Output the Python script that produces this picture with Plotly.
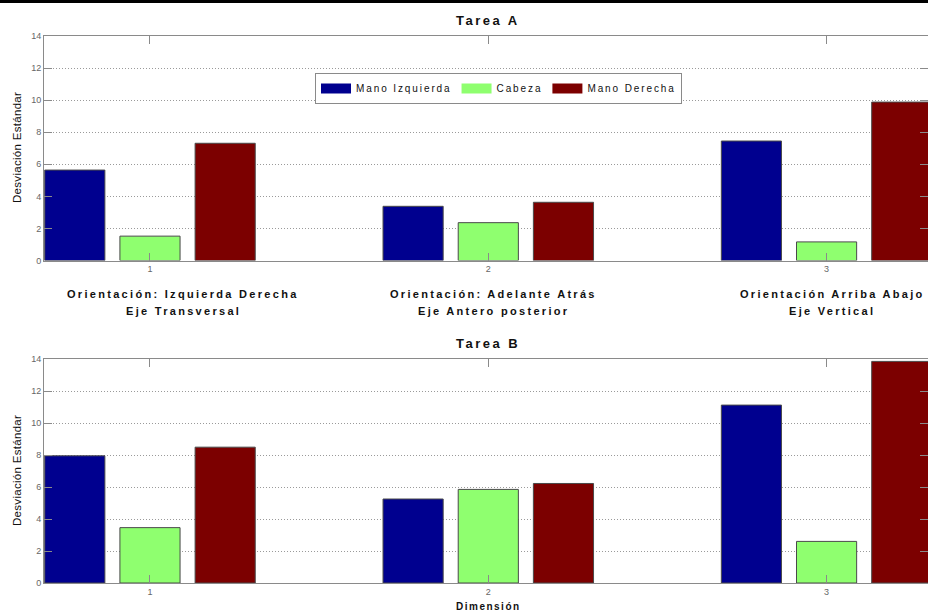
import plotly.graph_objects as go

dimensiones = [1, 2, 3]
series = ["Mano Izquierda", "Cabeza", "Mano Derecha"]
colores = ["#00008F", "#8FFF6F", "#7C0000"]

tarea_a_izq = [5.64, 3.38, 7.45]
tarea_a_cab = [1.52, 2.36, 1.16]
tarea_a_der = [7.31, 3.63, 9.88]

tarea_b_izq = [7.95, 5.25, 11.12]
tarea_b_cab = [3.46, 5.85, 2.60]
tarea_b_der = [8.49, 6.22, 13.85]

etiquetas_l1 = ["Orientación: Izquierda Derecha", "Orientación: Adelante Atrás", "Orientación Arriba Abajo"]
etiquetas_l2 = ["Eje Transversal", "Eje Antero posterior", "Eje Vertical"]
titulos = ["Tarea A", "Tarea B"]
ytitulo = "Desviación Estándar"
xtitulo = "Dimensión"

FONT = "Liberation Sans, Arial, sans-serif"

def sp(txt, ls=1):
    return f'<span style="letter-spacing:{ls}px">{txt}</span>'

fig = go.Figure()
datos_a = [tarea_a_izq, tarea_a_cab, tarea_a_der]
datos_b = [tarea_b_izq, tarea_b_cab, tarea_b_der]
for i, (nombre, col) in enumerate(zip(series, colores)):
    fig.add_trace(go.Bar(x=dimensiones, y=datos_a[i], name=nombre,
                         marker=dict(color=col, line=dict(color="#4a4a4a", width=1)),
                         xaxis="x", yaxis="y", showlegend=False))
for i, (nombre, col) in enumerate(zip(series, colores)):
    fig.add_trace(go.Bar(x=dimensiones, y=datos_b[i], name=nombre,
                         marker=dict(color=col, line=dict(color="#4a4a4a", width=1)),
                         xaxis="x2", yaxis="y2", showlegend=False))
# legend entries (wide swatches like the original)
for nombre, col in zip(series, colores):
    fig.add_trace(go.Scatter(x=[None], y=[None], mode="lines", name=sp(nombre, 1.9),
                             line=dict(color=col, width=13), xaxis="x", yaxis="y",
                             hoverinfo="skip"))

H_PLOT = 547.0
W_PLOT = 884.0
def py(pix):
    return (583 - pix) / H_PLOT
def px(pix):
    return (pix - 44) / W_PLOT

axis_common = dict(showline=True, linecolor="#8a8a8a", linewidth=1, mirror="ticks", ticks="inside",
                   ticklen=8, tickcolor="#8a8a8a", tickfont=dict(family=FONT, size=9, color="#666666"))
xr = [0.6867, 3.2998]
fig.update_layout(
    width=928, height=613,
    margin=dict(l=44, r=0, t=36, b=30),
    paper_bgcolor="white", plot_bgcolor="white",
    barmode="group", bargap=0.3333, bargroupgap=0.2,
    font=dict(family=FONT),
    xaxis=dict(domain=[0, 1], anchor="y", range=xr, tickvals=dimensiones, showgrid=False, zeroline=False, **axis_common),
    yaxis=dict(domain=[py(260.5), 1], anchor="x", range=[0, 14], dtick=2, showgrid=True, gridcolor="#9a9a9a",
               griddash="1px,2px", zeroline=False, **axis_common),
    xaxis2=dict(domain=[0, 1], anchor="y2", range=xr, tickvals=dimensiones, showgrid=False, zeroline=False, **axis_common),
    yaxis2=dict(domain=[0, py(359)], anchor="x2", range=[0, 14], dtick=2, showgrid=True, gridcolor="#9a9a9a",
                griddash="1px,2px", zeroline=False, **axis_common),
    legend=dict(orientation="h", x=px(315), y=py(73), xanchor="left", yanchor="top",
                bordercolor="#8a8a8a", borderwidth=1, bgcolor="white",
                font=dict(family=FONT, size=10, color="#111"), itemwidth=30, tracegroupgap=0),
    shapes=[dict(type="rect", xref="paper", yref="paper", x0=-0.1, x1=1.1, y0=py(3), y1=py(-5),
                 fillcolor="black", line=dict(width=0))],
)

def a(text, x, y, size, **kw):
    d = dict(text=text, x=px(x), y=py(y), xref="paper", yref="paper", xanchor="center", yanchor="middle",
             showarrow=False, font=dict(family=FONT, size=size, color="#111"))
    d.update(kw)
    return d

ann = []
ann.append(a("<b>" + sp(titulos[0], 2.5) + "</b>", 488, 20, 13))
ann.append(a("<b>" + sp(titulos[1], 2.5) + "</b>", 488, 343, 13))
for yc in [148, 471]:
    ann.append(a(sp(ytitulo, 0.3), 17, yc, 11.5, textangle=-90))
ann.append(a("<b>" + sp(xtitulo, 1.5) + "</b>", 488, 606, 10))
centros = [183, 493, 832]
for c, l1, l2 in zip(centros, etiquetas_l1, etiquetas_l2):
    ann.append(a("<b>" + sp(l1, 2.3) + "</b>", c, 294, 11))
    ann.append(a("<b>" + sp(l2, 2.3) + "</b>", c, 311, 11))
fig.update_layout(annotations=ann)

fig.write_html("out.html", config={"displayModeBar": False},
               post_script="document.body.style.margin='0px';document.body.style.overflow='hidden';")
